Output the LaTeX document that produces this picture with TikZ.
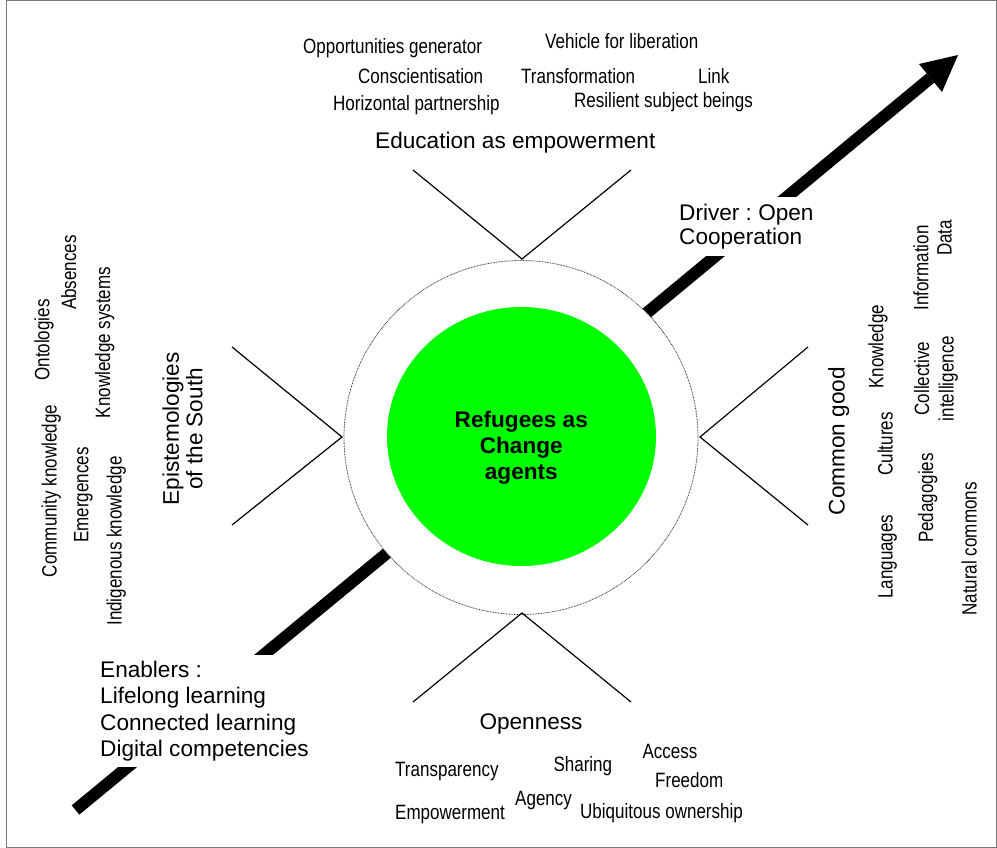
\documentclass[tikz,border=0pt]{standalone}
\usepackage{fontspec}
\setmainfont{Liberation Sans}
\newfontfamily\narrowfont[FakeStretch=0.82]{Liberation Sans}
\usetikzlibrary{shapes.geometric}
\definecolor{brightgreen}{RGB}{0,255,0}
\definecolor{framegray}{RGB}{120,120,120}
\frenchspacing
\begin{document}
\begin{tikzpicture}[x=1pt,y=-1pt,
  big/.style={font=\fontsize{22.6}{26.3}\selectfont, inner sep=0pt},
  small/.style={font=\narrowfont\fontsize{20.75}{24.5}\selectfont, inner sep=0pt},
  lab/.style={small, anchor=base west},
  biglab/.style={big, anchor=base west},
  rlab/.style={small, rotate=90, anchor=base},
  vline/.style={line width=1.2pt, black},
  arrowbody/.style={line width=12pt, black},
  cutbox/.style={big, fill=white, align=left, anchor=north west, inner xsep=6pt, inner ysep=6.5pt}
]
\useasboundingbox (0,0) rectangle (997,848);
\draw[framegray, line width=1.5pt] (6.5,0.75) rectangle (996.25,847.25);

% arrow
\coordinate (lowS) at (75.5,810);
\coordinate (lowE) at (445.8,504.6);
\coordinate (upS) at (586.7,362.7);
\coordinate (upE) at (930.5,78);
\coordinate (tip) at (958,55);
\coordinate (hL) at (919,64);
\coordinate (hR) at (942,92);
\draw[arrowbody] (lowS) -- (lowE);
\draw[arrowbody] (upS) -- (upE);
\fill[black] (tip) -- (hL) -- (hR) -- cycle;

% boxes that cut the arrow
\node[cutbox, font=\fontsize{22.6}{24.5}\selectfont] (driver) at (673,197) {Driver : Open\\Cooperation};
\node[cutbox, inner ysep=6pt] (enablers) at (94,655) {Enablers :\\Lifelong learning\\Connected learning\\Digital competencies};

% centre
\node[circle, draw=black!80, fill=white, line width=0.8pt, dash pattern=on 0.8pt off 0.8pt, minimum size=354pt, inner sep=0pt] (outer) at (521,437.5) {};
\node[ellipse, fill=brightgreen, minimum width=269pt, minimum height=259pt, inner sep=0pt] (core) at (521.5,436.5) {};
\node[font=\bfseries\fontsize{22.6}{26}\selectfont, align=center, inner sep=0pt] (title) at (521.3,447.3) {Refugees as\\Change\\agents};

% chevrons
\coordinate (tA) at (413,170); \coordinate (tV) at (522,259); \coordinate (tB) at (631,170);
\coordinate (bA) at (413,702); \coordinate (bV) at (522,613); \coordinate (bB) at (631,702);
\coordinate (lA) at (232,347); \coordinate (lV) at (342,437); \coordinate (lB) at (232,525);
\coordinate (rA) at (808,347); \coordinate (rV) at (700,437); \coordinate (rB) at (808,525);
\draw[vline] (tA) -- (tV) -- (tB);
\draw[vline] (bA) -- (bV) -- (bB);
\draw[vline] (lA) -- (lV) -- (lB);
\draw[vline] (rA) -- (rV) -- (rB);

% top group
\node[lab] (opp) at (303,53.3) {Opportunities generator};
\node[lab] (veh) at (545,48.3) {Vehicle for liberation};
\node[lab] (con) at (358,83.3) {Conscientisation};
\node[lab] (tra) at (521,83.3) {Transformation};
\node[lab] (lnk) at (698,83.3) {Link};
\node[lab] (hor) at (333,110.7) {Horizontal partnership};
\node[lab] (res) at (574,107.3) {Resilient subject beings};
\node[biglab] (edu) at (375,148.3) {Education as empowerment};

% bottom group
\node[biglab] (opn) at (479.3,729) {Openness};
\node[lab] (trp) at (395,776.5) {Transparency};
\node[lab] (shr) at (553.3,771.5) {Sharing};
\node[lab] (acc) at (642.3,758.3) {Access};
\node[lab] (fre) at (655,787.3) {Freedom};
\node[lab] (agn) at (515,805) {Agency};
\node[lab] (emp) at (395,819) {Empowerment};
\node[lab] (ubq) at (580,818) {Ubiquitous ownership};

% left group
\node[rlab] (ont) at (49.3,340) {Ontologies};
\node[rlab] (abs) at (76,272.5) {Absences};
\node[rlab] (ksy) at (110,342.5) {Knowledge systems};
\node[rlab] (cmk) at (56.7,491) {Community knowledge};
\node[rlab] (emg) at (88.3,495) {Emergences};
\node[rlab] (ind) at (121.7,541) {Indigenous knowledge};
\node[big, rotate=90, align=center, font=\fontsize{22.6}{23.5}\selectfont] (epi) at (182.5,429) {Epistemologies\\of the South};

% right group
\node[big, rotate=90, anchor=base] (cgd) at (844.5,441) {Common good};
\node[rlab] (knw) at (883.3,346.7) {Knowledge};
\node[rlab] (cul) at (892.7,444) {Cultures};
\node[rlab] (lng) at (892.7,556.7) {Languages};
\node[rlab] (inf) at (928.3,268) {Information};
\node[rlab] (dat) at (951.7,238) {Data};
\node[small, rotate=90, align=center] (col) at (936,378.5) {Collective\\intelligence};
\node[rlab] (ped) at (933,498) {Pedagogies};
\node[rlab] (nat) at (976.7,549) {Natural commons};
\end{tikzpicture}
\end{document}
